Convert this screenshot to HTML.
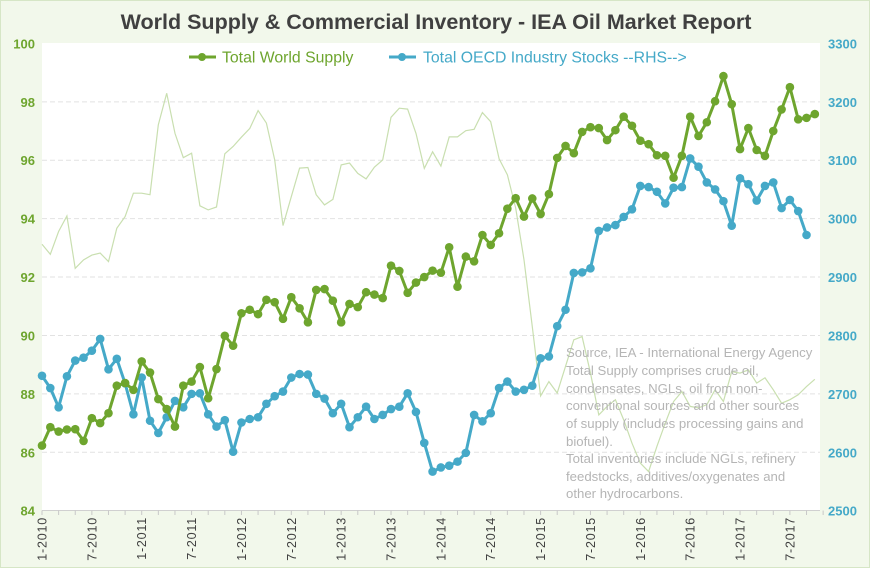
<!DOCTYPE html>
<html><head><meta charset="utf-8"><style>
html,body{margin:0;padding:0;background:#f2f8eb;}
svg{display:block;font-family:"Liberation Sans",sans-serif;}
</style></head><body>
<svg id="chart" width="870" height="568" viewBox="0 0 870 568">
<rect x="0.5" y="0.5" width="869" height="567" fill="#f2f8eb" stroke="#d6e6c6"/>
<rect x="42" y="43" width="778" height="467" fill="#ffffff"/>
<text x="436" y="29" text-anchor="middle" font-size="21.5" font-weight="bold" fill="#404040">World Supply &amp; Commercial Inventory - IEA Oil Market Report</text>
<g>
<g>
<line x1="189" y1="57" x2="216" y2="57" stroke="#6ea52e" stroke-width="3"/><circle cx="202" cy="57" r="4" fill="#6ea52e"/>
<text x="222" y="62.5" font-size="15.8" fill="#6ea52e">Total World Supply</text></g>
<g>
<line x1="389" y1="57" x2="416" y2="57" stroke="#45a9c8" stroke-width="3"/><circle cx="402" cy="57" r="4" fill="#45a9c8"/>
<text x="423" y="62.5" font-size="15.8" fill="#45a9c8">Total OECD Industry Stocks --RHS--&gt;</text></g>
</g>
<g id="grid"></g><g id="axes"></g><g id="series"></g>
<g font-size="13.2" fill="#b5b5b5">
<text x="566" y="357">Source, IEA - International Energy Agency</text>
<text x="566" y="375">Total Supply comprises crude oil,</text>
<text x="566" y="393">condensates, NGLs, oil from non-</text>
<text x="566" y="410">conventional sources and other sources</text>
<text x="566" y="428">of supply (includes processing gains and</text>
<text x="566" y="446">biofuel).</text>
<text x="566" y="463">Total inventories include NGLs, refinery</text>
<text x="566" y="481">feedstocks, additives/oxygenates and</text>
<text x="566" y="498">other hydrocarbons.</text>
</g>
</svg>
<script>
const supply=[86.23,86.86,86.71,86.78,86.79,86.39,87.17,87.0,87.34,88.28,88.37,88.14,89.11,88.73,87.82,87.48,86.88,88.28,88.42,88.92,87.85,88.85,89.99,89.65,90.76,90.88,90.73,91.22,91.14,90.57,91.31,90.93,90.45,91.56,91.59,91.19,90.45,91.08,90.97,91.48,91.4,91.28,92.39,92.21,91.46,91.81,92.0,92.22,92.15,93.02,91.67,92.7,92.54,93.44,93.1,93.5,94.34,94.7,94.07,94.69,94.16,94.84,96.08,96.49,96.24,96.97,97.13,97.1,96.69,97.03,97.49,97.18,96.67,96.55,96.17,96.15,95.4,96.15,97.49,96.83,97.3,98.02,98.88,97.92,96.38,97.1,96.35,96.15,97.0,97.74,98.5,97.4,97.45,97.58];
const stocks=[2731,2710,2677,2730,2757,2762,2774,2794,2742,2760,2718,2665,2728,2654,2633,2660,2688,2677,2700,2701,2665,2644,2655,2601,2651,2657,2660,2683,2696,2704,2728,2734,2733,2700,2692,2667,2683,2643,2660,2678,2657,2664,2674,2678,2701,2669,2616,2567,2574,2577,2584,2599,2664,2653,2667,2710,2721,2704,2707,2714,2761,2764,2816,2844,2907,2908,2915,2979,2985,2989,3003,3016,3056,3054,3046,3026,3053,3054,3103,3089,3062,3050,3030,2988,3069,3059,3031,3056,3062,3018,3032,3013,2972];
const thin=[93.12,92.78,93.56,94.09,92.3,92.59,92.75,92.82,92.53,93.67,94.07,94.87,94.87,94.82,97.21,98.29,96.92,96.09,96.24,94.44,94.3,94.4,96.22,96.47,96.79,97.09,97.7,97.27,96.01,93.76,94.75,95.73,95.75,94.82,94.47,94.66,95.84,95.9,95.55,95.36,95.76,96.01,97.47,97.78,97.75,96.92,95.72,96.29,95.8,96.8,96.8,97.01,97.06,97.63,97.32,96.05,95.5,94.36,92.59,90.3,87.93,88.42,88.03,88.94,89.85,89.96,88.71,87.28,87.57,87.8,87.11,86.31,85.63,85.34,86.2,87.0,87.74,88.08,87.57,87.52,87.63,88.14,87.74,88.76,88.71,88.82,88.37,88.55,88.14,87.68,87.8,87.97,88.25,88.5];
const leftTicks=[84,86,88,90,92,94,96,98,100];
const rightTicks=[2500,2600,2700,2800,2900,3000,3100,3200,3300];
const xLabels=["1-2010","7-2010","1-2011","7-2011","1-2012","7-2012","1-2013","7-2013","1-2014","7-2014","1-2015","7-2015","1-2016","7-2016","1-2017","7-2017"];

const NS="http://www.w3.org/2000/svg";
const X0=42,DX=8.31,YT=43.4,YB=510.7;
const xs=i=>X0+DX*i;
const yL=v=>YB-(v-84)/(100-84)*(YB-YT);
const yR=v=>YB-(v-2500)/(3300-2500)*(YB-YT);
function mk(tag,attrs,parent){const e=document.createElementNS(NS,tag);for(const k in attrs)e.setAttribute(k,attrs[k]);parent.appendChild(e);return e;}
const grid=document.getElementById('grid'),axes=document.getElementById('axes'),ser=document.getElementById('series');
leftTicks.forEach((v,k)=>{
  if(v>84&&v<100){const g=mk('line',{x1:42,x2:820,y1:yL(v),y2:yL(v),stroke:'#e2e2e2','stroke-dasharray':'5,3'},grid);
  
  }
  const t=mk('text',{x:35,y:yL(v)+5,'text-anchor':'end','font-size':13,'font-weight':'bold',fill:'#6ea52e'},axes);
  t.textContent=v;
  
  
});
rightTicks.forEach(v=>{
  const t=mk('text',{x:828,y:yR(v)+5,'font-size':13,'font-weight':'bold',fill:'#45a9c8'},axes);
  t.textContent=v;
  
  
});
const ax=mk('line',{x1:42,x2:820,y1:510.5,y2:510.5,stroke:'#d0d0d0'},axes);


for(let i=0;i<=94;i+=2){const tk=mk('line',{x1:xs(i),x2:xs(i),y1:510.5,y2:515,stroke:'#c8c8c8'},axes);

}
xLabels.forEach((s,k)=>{
  const x=xs(k*6)+4.5;
  const t=mk('text',{x:0,y:0,'font-size':12.5,'letter-spacing':'0.8',fill:'#404040','text-anchor':'end',transform:`translate(${x},517) rotate(-90)`},axes);
  t.textContent=s;
  
  
});
function pts(arr,f){return arr.map((v,i)=>xs(i).toFixed(1)+','+f(v).toFixed(1)).join(' ');}
const tl=mk('polyline',{points:pts(thin,yL),fill:'none',stroke:'#c9dfb0','stroke-width':1.2},ser);


const sl=mk('polyline',{points:pts(stocks,yR),fill:'none',stroke:'#45a9c8','stroke-width':3,'stroke-linejoin':'round'},ser);


stocks.forEach((v,i)=>{const c=mk('circle',{cx:xs(i),cy:yR(v),r:4.3,fill:'#45a9c8'},ser);

});
const gl=mk('polyline',{points:pts(supply,yL),fill:'none',stroke:'#6ea52e','stroke-width':3,'stroke-linejoin':'round'},ser);


supply.forEach((v,i)=>{const c=mk('circle',{cx:xs(i),cy:yL(v),r:4.3,fill:'#6ea52e'},ser);

});
</script>
</body></html>
